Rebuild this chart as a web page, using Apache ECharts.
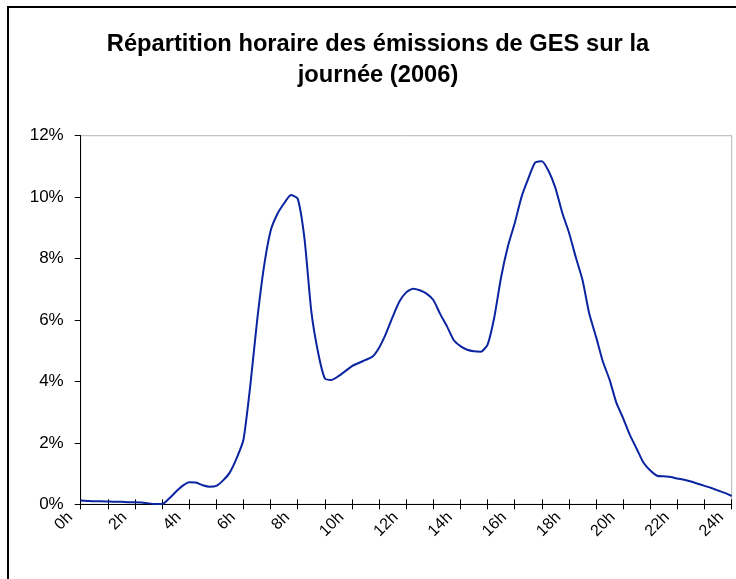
<!DOCTYPE html>
<html>
<head>
<meta charset="utf-8">
<script src="https://cdn.jsdelivr.net/npm/echarts@6/dist/echarts.min.js"></script>
<style>
  html, body { margin: 0; padding: 0; background: #ffffff; }
  #chart { width: 736px; height: 579px; }
</style>
</head>
<body>
<div id="chart"></div>
<script>
// Hour of day (quarter-hour steps)
const hours = [
  0, 0.25, 0.5, 0.75, 1, 1.25, 1.5, 1.75, 2, 2.25, 2.5, 2.75,
  3, 3.25, 3.5, 3.75, 4, 4.25, 4.5, 4.75, 5, 5.25, 5.5, 5.75,
  6, 6.25, 6.5, 6.75, 7, 7.25, 7.5, 7.75, 8, 8.25, 8.5, 8.75,
  9, 9.25, 9.5, 9.75, 10, 10.25, 10.5, 10.75, 11, 11.25, 11.5, 11.75,
  12, 12.25, 12.5, 12.75, 13, 13.25, 13.5, 13.75, 14, 14.25, 14.5, 14.75,
  15, 15.25, 15.5, 15.75, 16, 16.25, 16.5, 16.75, 17, 17.25, 17.5, 17.75,
  18, 18.25, 18.5, 18.75, 19, 19.25, 19.5, 19.75, 20, 20.25, 20.5, 20.75,
  21, 21.25, 21.5, 21.75, 22, 22.25, 22.5, 22.75, 23, 23.25, 23.5, 23.75, 24
];
// Share of daily GHG emissions (%)
const emissions = [
  0.12, 0.11, 0.10, 0.10, 0.09, 0.08, 0.08, 0.07, 0.07, 0.06, 0.03, 0.01,
  0.01, 0.18, 0.40, 0.60, 0.72, 0.71, 0.62, 0.57, 0.60, 0.78, 1.04, 1.50,
  2.10, 3.85, 5.95, 7.70, 8.90, 9.45, 9.80, 10.07, 9.95, 8.65, 6.30, 4.95,
  4.10, 4.05, 4.17, 4.33, 4.50, 4.60, 4.70, 4.80, 5.10, 5.55, 6.10, 6.60,
  6.90, 7.02, 6.97, 6.86, 6.65, 6.20, 5.80, 5.35, 5.15, 5.03, 4.98, 4.97,
  5.20, 6.10, 7.40, 8.40, 9.15, 10.00, 10.60, 11.12, 11.17, 10.85, 10.30, 9.50,
  8.85, 8.05, 7.30, 6.20, 5.45, 4.65, 4.05, 3.30, 2.80, 2.25, 1.80, 1.35,
  1.10, 0.93, 0.91, 0.89, 0.84, 0.80, 0.74, 0.67, 0.60, 0.53, 0.45, 0.37, 0.27
];
const xLabelHours = [0, 2, 4, 6, 8, 10, 12, 14, 16, 18, 20, 22, 24];
const yTicks = [0, 2, 4, 6, 8, 10, 12];
const titleText = 'Répartition horaire des émissions de GES sur la\njournée (2006)';

const chart = echarts.init(document.getElementById('chart'), null, { renderer: 'canvas' });
const font = '"Liberation Sans", Arial, sans-serif';

const option = {
  animation: false,
  backgroundColor: '#ffffff',
  title: {
    text: titleText,
    left: 373,
    textAlign: 'center',
    top: 24,
    textStyle: {
      fontFamily: font,
      fontWeight: 'bold',
      fontSize: 23.7,
      lineHeight: 31,
      color: '#000000'
    }
  },
  graphic: [{
    type: 'rect',
    shape: { x: 8, y: 7, width: 800, height: 700 },
    style: { fill: 'none', stroke: '#000000', lineWidth: 2 },
    silent: true,
    z: 100
  }],
  grid: {
    left: 80.7,
    right: 4.3,
    top: 135.7,
    bottom: 74.7,
    show: true,
    borderColor: '#b4b4b4',
    borderWidth: 1,
    backgroundColor: 'transparent'
  },
  xAxis: [{
    type: 'value',
    min: 0,
    max: 24,
    interval: 1,
    axisLine: { show: true, lineStyle: { color: '#000000', width: 1 } },
    axisTick: { show: true, length: 5, lineStyle: { color: '#000000' } },
    splitLine: { show: false },
    axisLabel: {
      rotate: 45,
      margin: 0,
      padding: [0, 15, 0, 0],
      fontFamily: font,
      fontSize: 16,
      color: '#000000',
      formatter: v => (xLabelHours.indexOf(v) >= 0 ? v + 'h' : '')
    }
  }, {
    type: 'value',
    position: 'bottom',
    min: 0,
    max: 24,
    interval: 1,
    axisLine: { show: false },
    axisTick: { show: true, inside: true, length: 5, lineStyle: { color: '#000000' } },
    splitLine: { show: false },
    axisLabel: { show: false }
  }],
  yAxis: {
    type: 'value',
    min: yTicks[0],
    max: yTicks[yTicks.length - 1],
    interval: 2,
    axisLine: { show: true, lineStyle: { color: '#000000', width: 1 } },
    axisTick: { show: true, length: 6, lineStyle: { color: '#000000' } },
    splitLine: { show: false },
    axisLabel: {
      margin: 17,
      fontFamily: font,
      fontSize: 17,
      color: '#000000',
      formatter: '{value}%'
    }
  },
  series: [{
    type: 'line',
    xAxisIndex: 0,
    data: hours.map((h, i) => [h, emissions[i]]),
    showSymbol: false,
    smooth: 0.2,
    lineStyle: { color: '#0b24a0', width: 2 },
    itemStyle: { color: '#0b24a0' }
  }]
};
chart.setOption(option);
</script>
</body>
</html>
